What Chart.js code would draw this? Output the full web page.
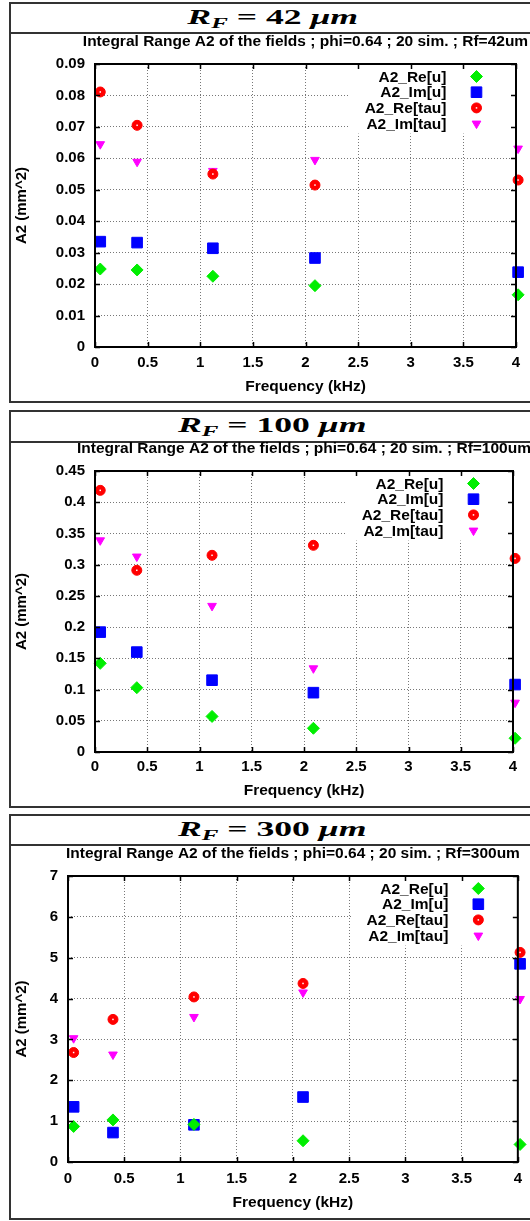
<!DOCTYPE html>
<html>
<head>
<meta charset="utf-8">
<title>Integral Range A2</title>
<script src="https://cdn.jsdelivr.net/npm/chart.js@4.4.1/dist/chart.umd.min.js"></script>
<style>
  html, body { margin: 0; padding: 0; background: #fff; }
  body { position: relative; width: 530px; height: 1221px; overflow: hidden; }
  .frame { position: absolute; left: 9px; width: 527px; border: 2px solid #333; box-sizing: border-box; }
  .head { position: absolute; left: 0; right: 0; top: 0; box-sizing: border-box; border-bottom: 2px solid #333;
          text-align: center; line-height: 28px; overflow: visible; }
  .eq { display: inline-block; font-family: "Liberation Serif", "DejaVu Serif", serif; font-size: 22px; font-weight: bold;
        transform: scaleX(1.62); white-space: nowrap; color: #000; position: relative; top: -1px; line-height: 28px; }
  .eq sub { font-size: 0.7em; vertical-align: -0.28em; line-height: 0; }
  canvas { position: absolute; left: 0; }
</style>
</head>
<body>

<div class="frame" style="top:2px;height:401px"><div class="head" style="height:30px"><span class="eq"><i>R</i><sub><i>F</i></sub> = 42 <i>μm</i></span></div></div>
<div class="frame" style="top:410px;height:398px"><div class="head" style="height:31px"><span class="eq"><i>R</i><sub><i>F</i></sub> = 100 <i>μm</i></span></div></div>
<div class="frame" style="top:814px;height:406px"><div class="head" style="height:30px"><span class="eq"><i>R</i><sub><i>F</i></sub> = 300 <i>μm</i></span></div></div>

<canvas id="c42" width="530" height="401" style="top:2px"></canvas>
<canvas id="c100" width="530" height="398" style="top:410px"></canvas>
<canvas id="c300" width="530" height="406" style="top:814px"></canvas>

<script>
// frequencies (kHz), same for all three runs
var freq = [0.05, 0.4, 1.12, 2.09, 4.02];
var seriesNames = ['A2_Re[u]', 'A2_Im[u]', 'A2_Re[tau]', 'A2_Im[tau]'];
var xTicks = [0, 0.5, 1, 1.5, 2, 2.5, 3, 3.5, 4];

// Rf = 42 um
var reU42   = [0.0248, 0.0245, 0.0225, 0.0195, 0.0166];
var imU42   = [0.0335, 0.0332, 0.0314, 0.0283, 0.0238];
var reTau42 = [0.0811, 0.0705, 0.0550, 0.0515, 0.0531];
var imTau42 = [0.0645, 0.0589, 0.0560, 0.0595, 0.0631];
var yTicks42 = [0, 0.01, 0.02, 0.03, 0.04, 0.05, 0.06, 0.07, 0.08, 0.09];

// Rf = 100 um
var reU100   = [0.142, 0.103, 0.057, 0.038, 0.022];
var imU100   = [0.192, 0.160, 0.115, 0.095, 0.108];
var reTau100 = [0.419, 0.291, 0.315, 0.331, 0.310];
var imTau100 = [0.339, 0.313, 0.234, 0.134, 0.079];
var yTicks100 = [0, 0.05, 0.1, 0.15, 0.2, 0.25, 0.3, 0.35, 0.4, 0.45];

// Rf = 300 um
var reU300   = [0.87, 1.03, 0.92, 0.52, 0.43];
var imU300   = [1.35, 0.72, 0.91, 1.59, 4.85];
var reTau300 = [2.68, 3.49, 4.04, 4.37, 5.13];
var imTau300 = [3.03, 2.63, 3.55, 4.15, 3.99];
var yTicks300 = [0, 1, 2, 3, 4, 5, 6, 7];

var FONT = '"Liberation Sans", Arial, Helvetica, sans-serif';
Chart.defaults.font.family = FONT;
Chart.defaults.font.weight = 'bold';
Chart.defaults.font.size = 15;
Chart.defaults.color = '#000';

var styles = [
  { pointStyle: 'rectRot',  color: '#00ee00', radius: 6,   rotation: 0 },
  { pointStyle: 'rect',     color: '#0000ff', radius: 7.5, rotation: 0 },
  { pointStyle: 'circle',   color: '#ff0000', radius: 5,   rotation: 0, dot: true },
  { pointStyle: 'triangle', color: '#ff00ff', radius: 5,   rotation: 180 }
];

function mark(ctx, st, x, y) {
  ctx.fillStyle = st.color;
  ctx.strokeStyle = st.color;
  ctx.lineWidth = 1;
  Chart.helpers.drawPoint(ctx, { pointStyle: st.pointStyle, radius: st.radius, rotation: st.rotation, borderWidth: 1 }, x, y);
  if (st.dot) {
    ctx.fillStyle = '#fff';
    ctx.fillRect(x - 0.75, y - 0.75, 1.5, 1.5);
  }
}

// gnuplot-like title, key (white box, text right aligned, sample on the right), border and ticks
var gpPlugin = {
  id: 'gpLook',
  beforeDatasetsDraw: function (chart, args, opts) {
    var ctx = chart.ctx, a = chart.chartArea;
    ctx.save();
    // plot title, centred over the plot area
    ctx.font = 'bold 15.5px ' + FONT;
    ctx.fillStyle = '#000';
    ctx.textAlign = 'center';
    ctx.textBaseline = 'middle';
    ctx.fillText(opts.text, (a.left + a.right) / 2, opts.y);

    var textRight = a.right - 69.5, markX = a.right - 39.5, y0 = a.top + 12.5, step = 15.7;
    var wMax = 0;
    seriesNames.forEach(function (n) { wMax = Math.max(wMax, ctx.measureText(n).width); });
    var boxL = textRight - wMax - 15;
    ctx.fillStyle = '#fff';
    ctx.fillRect(boxL, a.top + 1, a.right - 1 - boxL, 3 * step + 12.5 + 9);
    ctx.textAlign = 'right';
    seriesNames.forEach(function (n, i) {
      var y = y0 + i * step;
      ctx.fillStyle = '#000';
      ctx.fillText(n, textRight, y + 1);
      mark(ctx, styles[i], markX, y);
    });
    ctx.restore();
  },
  afterDatasetsDraw: function (chart) {
    var ctx = chart.ctx, a = chart.chartArea;
    ctx.save();
    // white centre dots of the circles
    chart.data.datasets.forEach(function (d, i) {
      if (!styles[i].dot) return;
      chart.getDatasetMeta(i).data.forEach(function (p) {
        ctx.fillStyle = '#fff';
        ctx.fillRect(p.x - 0.75, p.y - 0.75, 1.5, 1.5);
      });
    });
    // border
    ctx.strokeStyle = '#000';
    ctx.lineWidth = 2;
    ctx.strokeRect(a.left, a.top, a.right - a.left, a.bottom - a.top);
    // inward ticks on all four sides
    ctx.lineWidth = 1.5;
    ctx.beginPath();
    chart.scales.x.ticks.forEach(function (t) {
      var px = Math.round(chart.scales.x.getPixelForValue(t.value)) + 0.5;
      ctx.moveTo(px, a.bottom); ctx.lineTo(px, a.bottom - 5);
      ctx.moveTo(px, a.top); ctx.lineTo(px, a.top + 5);
    });
    chart.scales.y.ticks.forEach(function (t) {
      var py = Math.round(chart.scales.y.getPixelForValue(t.value)) + 0.5;
      ctx.moveTo(a.left, py); ctx.lineTo(a.left + 5, py);
      ctx.moveTo(a.right, py); ctx.lineTo(a.right - 5, py);
    });
    ctx.stroke();
    ctx.restore();
  }
};

function makeChart(id, subtitle, series, yTicks, g) {
  var datasets = series.map(function (vals, i) {
    var st = styles[i];
    return {
      label: seriesNames[i],
      data: freq.map(function (f, k) { return { x: f, y: vals[k] }; }),
      pointStyle: st.pointStyle,
      pointRadius: st.radius,
      pointRotation: st.rotation,
      backgroundColor: st.color,
      borderColor: st.color,
      borderWidth: 1,
      showLine: false,
      clip: false
    };
  });
  var gridOpts = { color: '#777', lineWidth: 1, drawTicks: false };
  return new Chart(document.getElementById(id), {
    type: 'scatter',
    data: { datasets: datasets },
    options: {
      responsive: false,
      animation: false,
      devicePixelRatio: 1,
      layout: { padding: { left: 0, top: g.plotTop, bottom: 0, right: 530 - g.right } },
      plugins: {
        legend: { display: false },
        tooltip: { enabled: false },
        gpLook: { text: subtitle, y: g.subY }
      },
      scales: {
        x: {
          type: 'linear', min: 0, max: 4,
          afterBuildTicks: function (s) { s.ticks = xTicks.map(function (v) { return { value: v }; }); },
          afterFit: function (s) { s.height = g.xh; },
          ticks: { padding: g.xPad, maxRotation: 0, autoSkip: false, font: { size: 15, weight: 'bold' },
                   callback: function (v) { return String(v); } },
          grid: gridOpts,
          border: { display: false, dash: [1, 2] },
          title: { display: true, text: 'Frequency (kHz)', font: { size: 15.5, weight: 'bold' },
                   padding: { top: 0, bottom: g.xTitlePad } }
        },
        y: {
          type: 'linear', min: 0, max: yTicks[yTicks.length - 1],
          afterBuildTicks: function (s) { s.ticks = yTicks.map(function (v) { return { value: v }; }); },
          afterFit: function (s) { s.width = g.left; },
          ticks: { padding: 10, font: { size: 15, weight: 'bold' },
                   callback: function (v) { return String(v); } },
          grid: gridOpts,
          border: { display: false, dash: [1, 2] },
          title: { display: true, text: 'A2 (mm^2)', font: { size: 15, weight: 'bold' },
                   padding: { top: 13, bottom: 0 } }
        }
      }
    },
    plugins: [gpPlugin]
  });
}

makeChart('c42', 'Integral Range A2 of the fields ; phi=0.64 ; 20 sim. ; Rf=42um',
  [reU42, imU42, reTau42, imTau42], yTicks42,
  { left: 95, right: 516, plotTop: 62, subY: 39.5, xh: 56, xPad: 7, xTitlePad: 7 });

makeChart('c100', 'Integral Range A2 of the fields ; phi=0.64 ; 20 sim. ; Rf=100um',
  [reU100, imU100, reTau100, imTau100], yTicks100,
  { left: 95, right: 513, plotTop: 61, subY: 38.5, xh: 56, xPad: 6, xTitlePad: 8 });

makeChart('c300', 'Integral Range A2 of the fields ; phi=0.64 ; 20 sim. ; Rf=300um',
  [reU300, imU300, reTau300, imTau300], yTicks300,
  { left: 68, right: 519, plotTop: 62, subY: 39.5, xh: 58, xPad: 8, xTitlePad: 8 });
</script>
</body>
</html>
